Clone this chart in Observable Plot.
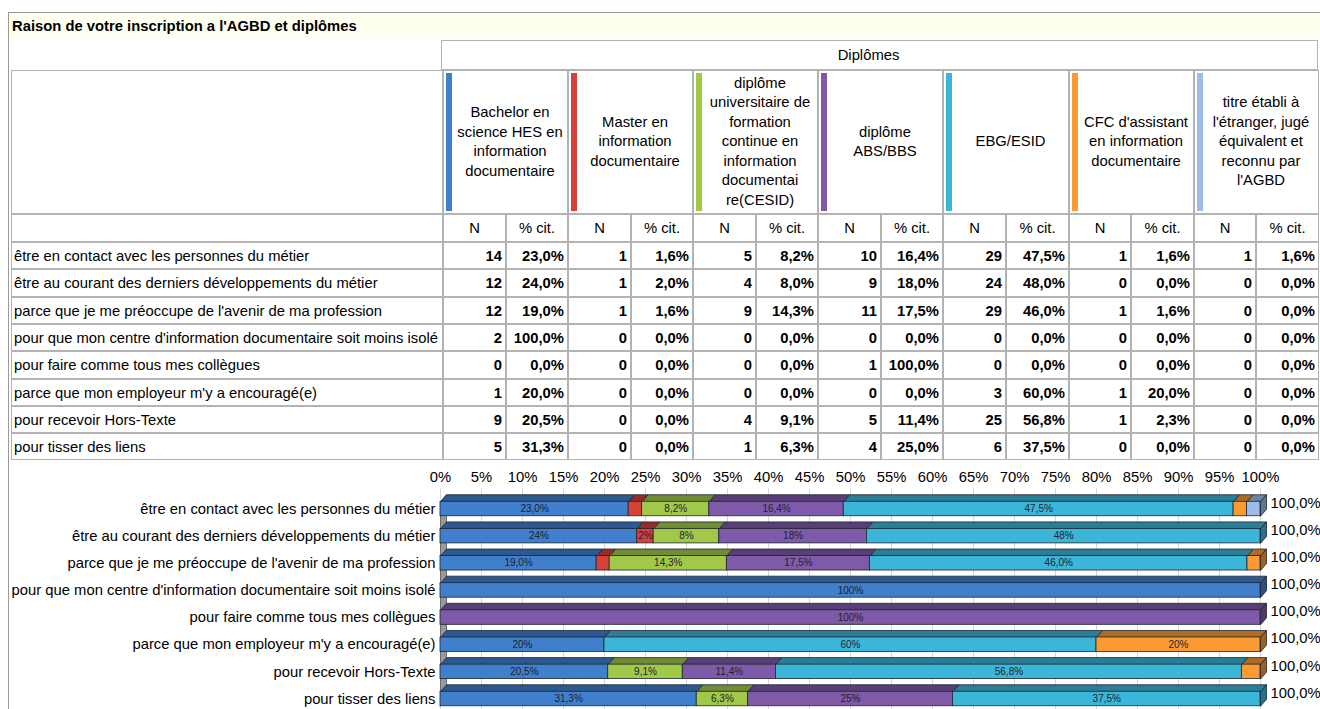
<!DOCTYPE html>
<html><head><meta charset="utf-8">
<script src="https://cdn.jsdelivr.net/npm/d3@7"></script>
<script src="https://cdn.jsdelivr.net/npm/@observablehq/plot@0.6"></script>
<style>
html,body{margin:0;padding:0}
body{width:1320px;height:709px;overflow:hidden;background:#fff;position:relative;font-family:"Liberation Sans",Arial,sans-serif;color:#000}
.abs{position:absolute;box-sizing:border-box}
.c{position:absolute;box-sizing:border-box;border:1px solid #b3b3b3;display:flex;align-items:center;font-size:14.8px;white-space:nowrap;overflow:hidden}
.num{justify-content:flex-end;padding-right:3px;font-weight:bold}
.ctr{justify-content:center}
.lbl{padding-left:2px}
.hd{position:absolute;display:flex;align-items:center;justify-content:center;text-align:center;white-space:pre-line;line-height:19.5px;font-size:14.8px}
</style></head><body>
<div id="root"></div>
<div id="chart" class="abs" style="left:0;top:462px"></div>
<script>
const title = "Raison de votre inscription a l'AGBD et diplômes";
const groupTitle = "Diplômes";
const reasons = [
  "être en contact avec les personnes du métier",
  "être au courant des derniers développements du métier",
  "parce que je me préoccupe de l'avenir de ma profession",
  "pour que mon centre d'information documentaire soit moins isolé",
  "pour faire comme tous mes collègues",
  "parce que mon employeur m'y a encouragé(e)",
  "pour recevoir Hors-Texte",
  "pour tisser des liens"
];
const diplomas = [
  "Bachelor en\nscience HES en\ninformation\ndocumentaire",
  "Master en\ninformation\ndocumentaire",
  "diplôme\nuniversitaire de\nformation\ncontinue en\ninformation\ndocumentai\nre(CESID)",
  "diplôme\nABS/BBS",
  "EBG/ESID",
  "CFC d'assistant\nen information\ndocumentaire",
  "titre établi à\nl'étranger, jugé\néquivalent et\nreconnu par\nl'AGBD"
];
const colors = ["#3f7fcc","#d8403a","#a2c84a","#7e5aa8","#3cb6d8","#f99a32","#9dbde8"];
const subHeaders = ["N", "% cit."];

// counts (N) per diploma, one value per reason
const nBachelor = [14, 12, 12, 2, 0, 1, 9, 5];
const nMaster   = [1, 1, 1, 0, 0, 0, 0, 0];
const nCesid    = [5, 4, 9, 0, 0, 0, 4, 1];
const nAbs      = [10, 9, 11, 0, 1, 0, 5, 4];
const nEbg      = [29, 24, 29, 0, 0, 3, 25, 6];
const nCfc      = [1, 0, 1, 0, 0, 1, 1, 0];
const nTitre    = [1, 0, 0, 0, 0, 0, 0, 0];
// % cit. per diploma, as printed in the table
const pBachelor = [23.0, 24.0, 19.0, 100.0, 0.0, 20.0, 20.5, 31.3];
const pMaster   = [1.6, 2.0, 1.6, 0.0, 0.0, 0.0, 0.0, 0.0];
const pCesid    = [8.2, 8.0, 14.3, 0.0, 0.0, 0.0, 9.1, 6.3];
const pAbs      = [16.4, 18.0, 17.5, 0.0, 100.0, 0.0, 11.4, 25.0];
const pEbg      = [47.5, 48.0, 46.0, 0.0, 0.0, 60.0, 56.8, 37.5];
const pCfc      = [1.6, 0.0, 1.6, 0.0, 0.0, 20.0, 2.3, 0.0];
const pTitre    = [1.6, 0.0, 0.0, 0.0, 0.0, 0.0, 0.0, 0.0];
const xTicks = [0,5,10,15,20,25,30,35,40,45,50,55,60,65,70,75,80,85,90,95,100];

const counts = [nBachelor, nMaster, nCesid, nAbs, nEbg, nCfc, nTitre];
const pcts = [pBachelor, pMaster, pCesid, pAbs, pEbg, pCfc, pTitre];
const fr1 = v => v.toFixed(1).replace(".", ",") + "%";

// ---------- table ----------
const root = document.getElementById("root");
function div(cls, x, y, w, h, text, style) {
  const d = document.createElement("div");
  d.className = cls;
  Object.assign(d.style, {left: x + "px", top: y + "px", width: w + "px", height: h + "px"}, style || {});
  if (text != null) d.textContent = text;
  root.appendChild(d);
  return d;
}
div("abs", 8, 12, 1312, 697, null, {borderLeft: "1px solid #9a9a9a", borderTop: "1px solid #9a9a9a"});
div("abs", 9, 13, 1311, 25, title, {background: "#fffff0", fontWeight: "bold", fontSize: "14.8px", lineHeight: "27px", paddingLeft: "3px"});

const xb = d3.range(15).map(k => Math.round(443 + k * 62.55));
const rowY = d3.range(9).map(r => Math.round(242 + r * 27.3));

div("c ctr", 441, 40, 877, 30, groupTitle, {paddingRight: "22px"});
div("c", 11, 70, 432, 144, "");
div("c", 11, 214, 432, 28, "");
diplomas.forEach((name, j) => {
  const x0 = xb[2 * j], x1 = xb[2 * j + 2];
  div("c", x0, 70, x1 - x0, 144, "");
  div("abs", x0 + 3, 73, 6, 138, null, {background: colors[j]});
  div("hd", x0 + 9, 70, x1 - x0 - 9, 144, name);
  subHeaders.forEach((s, k) => div("c ctr", xb[2 * j + k], 214, xb[2 * j + k + 1] - xb[2 * j + k], 28, s));
});
reasons.forEach((r, i) => {
  const y0 = rowY[i], h = rowY[i + 1] - y0;
  div("c lbl", 11, y0, 432, h, r);
  counts.forEach((n, j) => {
    div("c num", xb[2 * j], y0, xb[2 * j + 1] - xb[2 * j], h, String(n[i]));
    div("c num", xb[2 * j + 1], y0, xb[2 * j + 2] - xb[2 * j + 1], h, fr1(pcts[j][i]));
  });
});

// ---------- chart ----------
const pxPerRow = 27.14, pxPerPct = 8.2;
const hh = 7.25 / pxPerRow, dd = 7 / pxPerRow, dxu = 6 / pxPerPct;
const segs = [];
reasons.forEach((r, i) => {
  const total = d3.sum(counts, n => n[i]);
  let acc = 0;
  counts.forEach((n, j) => {
    if (!n[i]) return;
    const v = n[i] * 100 / total;
    segs.push({i, j, x1: acc, x2: acc + v, v, fill: colors[j]});
    acc += v;
  });
  segs[segs.length - 1].last = true;
});
const fmtSeg = v => Number.isInteger(v) ? v + "%" : v.toFixed(1).replace(".", ",") + "%";
const textW = s => [...s].reduce((a, c) => a + (c === "," ? 2.78 : c === "%" ? 8.89 : 5.56), 0);
const labelled = segs.filter(s => textW(fmtSeg(s.v)) + 1 < s.v * pxPerPct);

const tops = [], sides = [];
segs.forEach((s, k) => {
  const yt = s.i - hh, yb = s.i + hh, f = d3.color(s.fill).darker(1).formatHex();
  [[s.x1, yt], [s.x2, yt], [s.x2 + dxu, yt - dd], [s.x1 + dxu, yt - dd], [s.x1, yt]]
    .forEach(([x, y]) => tops.push({id: k, x, y, fill: f}));
  if (s.last) {
    const f2 = d3.color(s.fill).darker(1.3).formatHex();
    [[s.x2, yt], [s.x2 + dxu, yt - dd], [s.x2 + dxu, yb - dd], [s.x2, yb], [s.x2, yt]]
      .forEach(([x, y]) => sides.push({id: k, x, y, fill: f2}));
  }
});
const wall = [[0, -hh], [dxu, -hh - dd], [dxu, 7 + hh - dd], [0, 7 + hh], [0, -hh]].map(([x, y]) => ({x, y}));

const chart = Plot.plot({
  width: 1320, height: 247,
  marginLeft: 440, marginRight: 60, marginTop: 30, marginBottom: 0,
  x: {domain: [0, 100]},
  y: {domain: [0, 7], range: [46.5, 236.5]},
  color: {type: "identity"},
  style: {background: "transparent", color: "#000", fontFamily: "Liberation Sans, Arial, sans-serif", overflow: "visible"},
  marks: [
    Plot.ruleX(xTicks, {y1: -0.75, y2: 7.6, stroke: "#d6d6d6"}),
    Plot.line(wall, {x: "x", y: "y", fill: "#9a9a9a", stroke: "#555", strokeWidth: 0.8}),
    Plot.axisX({anchor: "top", ticks: xTicks, tickFormat: d => d + "%", tickSize: 0, tickPadding: 11, fontSize: 14.8, label: null}),
    Plot.axisY({anchor: "left", ticks: d3.range(reasons.length), tickFormat: i => reasons[i], tickSize: 0, tickPadding: 5, fontSize: 14.8, label: null}),
    Plot.line(tops, {x: "x", y: "y", z: "id", fill: "fill", stroke: "#1d2532", strokeWidth: 0.8}),
    Plot.line(sides, {x: "x", y: "y", z: "id", fill: "fill", stroke: "#1d2532", strokeWidth: 0.8}),
    Plot.rect(segs, {x1: "x1", x2: "x2", y1: d => d.i - hh, y2: d => d.i + hh, fill: "fill", stroke: "#1d2532", strokeWidth: 0.8}),
    Plot.text(labelled, {x: d => (d.x1 + d.x2) / 2, y: "i", text: d => fmtSeg(d.v), fontSize: 10, fill: "#1c2230"}),
    Plot.text(d3.range(reasons.length), {
      x: () => 100, y: i => i - 0.22, dx: 10, textAnchor: "start", fontSize: 14.8,
      text: i => { const t = d3.sum(counts, n => n[i]); return fr1(t * 100 / t); }
    })
  ]
});
document.getElementById("chart").appendChild(chart);
</script>
</body></html>
